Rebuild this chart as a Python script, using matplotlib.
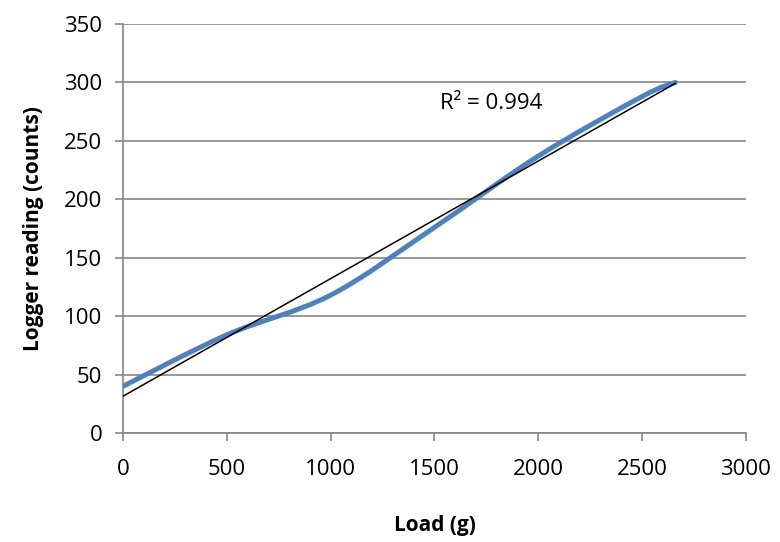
import numpy as np
import matplotlib
matplotlib.use('Agg')
import matplotlib.pyplot as plt
from matplotlib.path import Path
from matplotlib.patches import PathPatch

plt.rcParams['font.family'] = ['Open Sans', 'DejaVu Sans']

# Load (g) and logger reading (counts).
load = [0, 500, 1000, 1500, 2000, 2500, 2660]
reading = [40, 84, 118, 176, 237, 288, 300]

x_ticks = [0, 500, 1000, 1500, 2000, 2500, 3000]
y_ticks = [0, 50, 100, 150, 200, 250, 300, 350]
r2_label = 'R² = 0.994'

GRAY = '#868686'
BLUE = '#4F81BD'


def smooth_path(xs, ys):
    """Excel style smoothed line: cubic Bezier through every point."""
    pts = np.column_stack([xs, ys]).astype(float)
    verts = [pts[0]]
    codes = [Path.MOVETO]
    n = len(pts)
    for i in range(n - 1):
        p0 = pts[max(i - 1, 0)]
        p1 = pts[i]
        p2 = pts[i + 1]
        p3 = pts[min(i + 2, n - 1)]
        c1 = p1 + (p2 - p0) / 6
        c2 = p2 - (p3 - p1) / 6
        verts += [c1, c2, p2]
        codes += [Path.CURVE4] * 3
    return Path(verts, codes)


fig = plt.figure(figsize=(7.8, 5.42), dpi=100)
ax = fig.add_axes([0.1577, 0.2011, 0.7987, 0.7546])

ax.add_patch(PathPatch(smooth_path(load, reading), fill=False,
                       edgecolor=BLUE, lw=3.6, capstyle='round', zorder=3))

# linear trendline over the data range
slope, icpt = np.polyfit(load, reading, 1)
tx = np.array([0, load[-1]])
ax.plot(tx, slope * tx + icpt, color='black', lw=1.1, zorder=4)

ax.text(1525, 282, r2_label, fontsize=16, va='center', ha='left')

ax.set_xlim(0, 3000)
ax.set_ylim(0, 350)
ax.set_xticks(x_ticks)
ax.set_yticks(y_ticks)
ax.yaxis.grid(True, color=GRAY, lw=1.2)
ax.set_axisbelow(True)
for side in ['top', 'right']:
    ax.spines[side].set_visible(False)
for side in ['left', 'bottom']:
    ax.spines[side].set_color(GRAY)
    ax.spines[side].set_linewidth(1.2)
ax.tick_params(colors=GRAY, labelcolor='black', length=6, width=1.2,
               labelsize=16)
ax.tick_params(axis='x', pad=13)
ax.tick_params(axis='y', pad=9)

ax.set_xlabel('Load (g)', fontsize=15, fontweight='bold', labelpad=25)
ax.set_ylabel('Logger reading (counts)', fontsize=15, fontweight='bold',
              labelpad=14)

fig.savefig('out.png', dpi=100)
